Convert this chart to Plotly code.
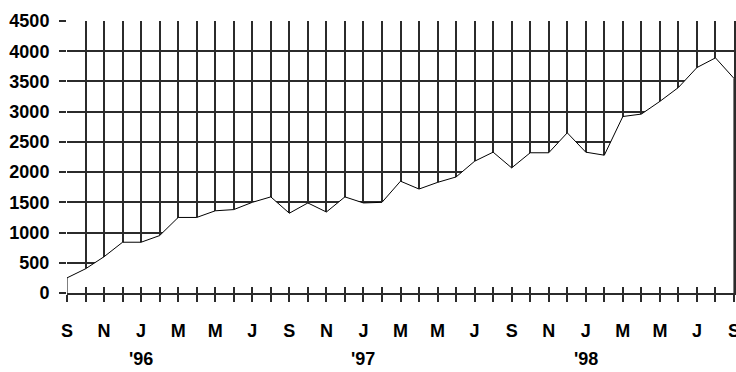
import plotly.graph_objects as go

# Monthly values, Sep 1995 .. Sep 1998
values = [250, 400, 600, 840, 840, 950, 1250, 1250, 1360, 1380, 1500, 1590,
          1320, 1490, 1340, 1590, 1490, 1500, 1850, 1720, 1830, 1920, 2180, 2330,
          2070, 2320, 2320, 2650, 2330, 2280, 2920, 2960, 3170, 3400, 3730, 3890,
          3550]
month_ticks = ["S", "", "N", "", "J", "", "M", "", "M", "", "J", ""] * 3 + ["S"]
year_labels = ["'96", "'97", "'98"]
year_positions = [4, 16, 28]
y_ticks = [0, 500, 1000, 1500, 2000, 2500, 3000, 3500, 4000, 4500]

x_idx = list(range(len(values)))
poly_x = [x_idx[0]] + x_idx + [x_idx[-1]]
poly_y = [0] + values + [0]

GRID = "#2b2b2b"
FONT = dict(family="Liberation Sans, Arial, sans-serif", size=18, color="black", weight="bold")

fig = go.Figure()
fig.add_trace(go.Scatter(x=poly_x, y=poly_y, mode="lines", fill="toself",
                         fillcolor="white", line=dict(color="black", width=1),
                         hoverinfo="skip", showlegend=False))
# helper trace so the overlay axes are drawn
fig.add_trace(go.Scatter(x=x_idx, y=values, xaxis="x2", yaxis="y2", mode="lines",
                         line=dict(width=0), opacity=0, hoverinfo="skip", showlegend=False))

for pos, lab in zip(year_positions, year_labels):
    fig.add_annotation(x=pos, y=0, xref="x", yref="y", text=lab, showarrow=False,
                       yshift=-66, yanchor="middle", font=FONT)

fig.update_layout(
    width=736, height=372,
    margin=dict(l=67, r=2, t=21, b=79, autoexpand=False),
    plot_bgcolor="white", paper_bgcolor="white",
    font=FONT,
    xaxis=dict(range=[0, len(values) - 1], tickmode="array", tickvals=x_idx, ticktext=month_ticks,
               showgrid=True, gridcolor=GRID, gridwidth=2,
               ticks="outside", ticklen=7, tickwidth=2, tickcolor=GRID,
               showline=True, linecolor=GRID, linewidth=2, zeroline=False,
               tickfont=FONT, ticklabelstandoff=13, tickangle=0, automargin=False,
               ticklabeloverflow="allow"),
    yaxis=dict(range=[0, 4500], tickmode="array", tickvals=y_ticks,
               showgrid=True, gridcolor=GRID, gridwidth=2,
               ticks="outside", ticklen=7, tickwidth=2, tickcolor=GRID,
               showline=False, zeroline=False, tickfont=FONT, automargin=False,
               ticklabelstandoff=6, ticklabeloverflow="allow"),
    xaxis2=dict(overlaying="x", anchor="y", range=[0, len(values) - 1], tickmode="array",
                tickvals=x_idx, ticks="inside", ticklen=6, tickwidth=2, tickcolor=GRID,
                showticklabels=False, showgrid=False, showline=False, zeroline=False,
                automargin=False),
    yaxis2=dict(overlaying="y", anchor="x", side="right", range=[0, 4500],
                showticklabels=False, showgrid=False, ticks="",
                showline=True, linecolor=GRID, linewidth=2, zeroline=False,
                automargin=False),
)

fig.write_html("out.html", config={"displayModeBar": False},
               post_script="document.body.style.margin='0';document.body.style.overflow='hidden';")
